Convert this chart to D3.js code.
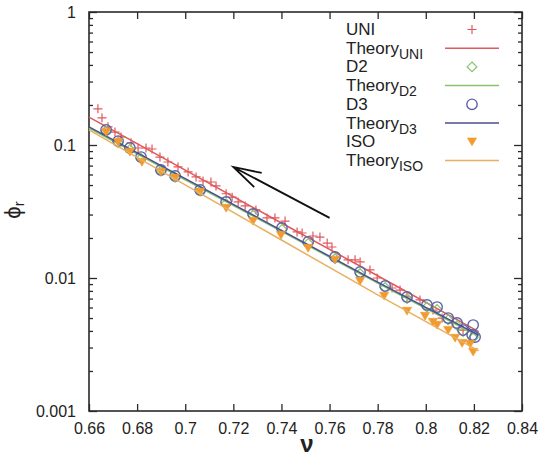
<!DOCTYPE html>
<html>
<head>
<meta charset="utf-8">
<script src="https://cdn.jsdelivr.net/npm/d3@7"></script>
<style>
  html, body { margin: 0; padding: 0; background: #fff; }
  svg text { font-family: "Liberation Sans", Arial, Helvetica, sans-serif; fill: #222; }
</style>
</head>
<body>
<svg id="chart" width="543" height="462"></svg>
<script>
// ---- data ----
const xTicks = [0.66, 0.68, 0.70, 0.72, 0.74, 0.76, 0.78, 0.80, 0.82, 0.84];
const xTickLabels = ["0.66", "0.68", "0.7", "0.72", "0.74", "0.76", "0.78", "0.8", "0.82", "0.84"];
const yTicks = [0.001, 0.01, 0.1, 1];
const yTickLabels = ["0.001", "0.01", "0.1", "1"];

const uniNu  = [0.6637, 0.6654, 0.6679, 0.6708, 0.6733, 0.6775, 0.6804, 0.6837, 0.6862, 0.6895,
                0.6928, 0.6970, 0.7012, 0.7045, 0.7074, 0.7107, 0.7128, 0.7170, 0.7195, 0.7220,
                0.7249, 0.7294, 0.7340, 0.7373, 0.7415, 0.7465, 0.7486, 0.7531, 0.7560, 0.7590,
                0.7610, 0.7677, 0.7706, 0.7727, 0.7768, 0.7798, 0.7860, 0.7893, 0.7922, 0.7976,
                0.8030, 0.8068, 0.8114, 0.8155];
const uniPhi = [0.187, 0.160, 0.137, 0.125, 0.115, 0.104, 0.0949, 0.0949, 0.0933, 0.0812,
                0.0745, 0.0684, 0.0627, 0.0575, 0.0536, 0.0527, 0.0492, 0.0430, 0.0405, 0.0373,
                0.0348, 0.0325, 0.0283, 0.0283, 0.0268, 0.0222, 0.0218, 0.0207, 0.0203, 0.0183,
                0.0171, 0.0137, 0.0137, 0.0132, 0.0115, 0.0100, 0.00841, 0.00812, 0.00720, 0.00684,
                0.00574, 0.00500, 0.00459, 0.00406];

const d2Nu  = [0.6671, 0.6721, 0.6770, 0.6816, 0.6899, 0.6958, 0.7062, 0.7170, 0.7282, 0.7402,
               0.7511, 0.7623, 0.7727, 0.7831, 0.7922, 0.8005, 0.8047, 0.8093, 0.8130, 0.8155, 0.8197];
const d2Phi = [0.127, 0.104, 0.0925, 0.0795, 0.0638, 0.0572, 0.0450, 0.0362, 0.0296, 0.0232,
               0.0182, 0.0140, 0.0108, 0.00850, 0.00700, 0.00605, 0.00580, 0.00485, 0.00440, 0.00395, 0.00355];

const d3Nu  = [0.6671, 0.6721, 0.6770, 0.6816, 0.6899, 0.6958, 0.7062, 0.7170, 0.7282, 0.7402,
               0.7511, 0.7623, 0.7727, 0.7831, 0.7922, 0.8005, 0.8047, 0.8093, 0.8130, 0.8155,
               0.8197, 0.8193, 0.8205];
const d3Phi = [0.130, 0.107, 0.0949, 0.0812, 0.0649, 0.0585, 0.0459, 0.0373, 0.0303, 0.0238,
               0.0187, 0.0144, 0.0111, 0.00871, 0.00720, 0.00627, 0.00605, 0.00500, 0.00459, 0.00406,
               0.00443, 0.00373, 0.00360];

const isoNu  = [0.6671, 0.6721, 0.6770, 0.6820, 0.6899, 0.6958, 0.7062, 0.7170, 0.7282, 0.7398,
                0.7511, 0.7623, 0.7727, 0.7827, 0.7922, 0.7997, 0.8030, 0.8047, 0.8093, 0.8122,
                0.8151, 0.8184, 0.8197];
const isoPhi = [0.125, 0.105, 0.0886, 0.0745, 0.0627, 0.0565, 0.0443, 0.0336, 0.0268, 0.0210,
                0.0168, 0.0137, 0.00949, 0.00733, 0.00565, 0.00518, 0.00467, 0.00443, 0.00406, 0.00354,
                0.00324, 0.00319, 0.00278];

// theory curves
const theoryNu     = [0.66, 0.70, 0.74, 0.78, 0.822];
const theoryUniPhi = [0.162, 0.0648, 0.0259, 0.0104, 0.00395];
const theoryD2Phi  = [0.134, 0.0548, 0.0224, 0.00915, 0.00365];
const theoryD3Phi  = [0.137, 0.0559, 0.0228, 0.00931, 0.00372];
const theoryIsoPhi = [0.130, 0.0501, 0.0193, 0.00746, 0.00283];

// arrow (tail -> head), in data units
const arrowNu  = [0.760, 0.720];
const arrowPhi = [0.0283, 0.0684];

// ---- layout ----
const svg = d3.select("#chart");
const mLeft = 89, mRight = 522, mTop = 12, mBottom = 411;

const x = d3.scaleLinear().domain([0.66, 0.84]).range([mLeft, mRight]);
const y = d3.scaleLog().domain([0.001, 1]).range([mBottom, mTop]);

const col = {
  uni: "#e0595c",
  d2: "#86c46e",
  d3: "#5a64a8",
  d3line: "#4a4f8e",
  iso: "#f29a2e",
  isoline: "#e9b060",
  axis: "#2a2a2a"
};

// ---- axes ----
const minorY = [];
[0.001, 0.01, 0.1].forEach(d => { for (let k = 2; k <= 9; k++) minorY.push(d * k); });

function styleAxis(g) {
  g.select(".domain").remove();
  g.selectAll(".tick line").attr("stroke", col.axis).attr("stroke-width", 1.3);
  g.selectAll(".tick text").attr("font-size", 16).attr("fill", "#222")
    .attr("font-family", '"Liberation Sans", Arial, sans-serif');
}

svg.append("g").attr("transform", `translate(0,${mBottom})`)
  .call(d3.axisBottom(x).tickValues(xTicks).tickSize(-7).tickPadding(12)
    .tickFormat((d, i) => xTickLabels[i]))
  .call(styleAxis);
svg.append("g").attr("transform", `translate(0,${mTop})`)
  .call(d3.axisTop(x).tickValues(xTicks).tickSize(-7).tickFormat(""))
  .call(styleAxis);

svg.append("g").attr("transform", `translate(${mLeft},0)`)
  .call(d3.axisLeft(y).tickValues(yTicks).tickSize(-8).tickPadding(13)
    .tickFormat((d, i) => yTickLabels[i]))
  .call(styleAxis);
svg.append("g").attr("transform", `translate(${mLeft},0)`)
  .call(d3.axisLeft(y).tickValues(minorY).tickSize(-4).tickFormat(""))
  .call(styleAxis);
svg.append("g").attr("transform", `translate(${mRight},0)`)
  .call(d3.axisRight(y).tickValues(yTicks).tickSize(-8).tickFormat(""))
  .call(styleAxis);
svg.append("g").attr("transform", `translate(${mRight},0)`)
  .call(d3.axisRight(y).tickValues(minorY).tickSize(-4).tickFormat(""))
  .call(styleAxis);

// frame
svg.append("rect")
  .attr("x", mLeft).attr("y", mTop)
  .attr("width", mRight - mLeft).attr("height", mBottom - mTop)
  .attr("fill", "none").attr("stroke", col.axis).attr("stroke-width", 1.6);

// axis titles
svg.append("text")
  .attr("x", 307).attr("y", 452)
  .attr("text-anchor", "middle")
  .attr("font-size", 24).attr("font-weight", "bold")
  .attr("font-family", '"DejaVu Sans", sans-serif')
  .text("ν");

const yTitle = svg.append("text")
  .attr("transform", "translate(20,210) rotate(-90)")
  .attr("text-anchor", "middle")
  .attr("font-size", 22)
  .attr("font-family", '"DejaVu Sans", sans-serif');
yTitle.append("tspan").text("ϕ");
yTitle.append("tspan").attr("font-size", 15).attr("dy", 4).text("r");

// ---- marks ----
const plot = svg.append("g");
const line = d3.line().x((d, i) => x(theoryNu[i])).y(d => y(d));

function drawTheory(vals, color) {
  plot.append("path").datum(vals)
    .attr("d", line)
    .attr("fill", "none").attr("stroke", color).attr("stroke-width", 1.5);
}

const pts = (nu, phi) => nu.map((n, i) => [n, phi[i]]);

// UNI: plus
function plus(g, cx, cy, s) {
  g.append("path").attr("d", `M${cx - s},${cy}H${cx + s}M${cx},${cy - s}V${cy + s}`)
    .attr("stroke", col.uni).attr("stroke-width", 1.2).attr("fill", "none");
}
const gUni = plot.append("g");
pts(uniNu, uniPhi).forEach(([n, p]) => plus(gUni, x(n), y(p), 4.5));
drawTheory(theoryUniPhi, col.uni);

// D2: diamonds
const diamond = d3.symbol().type(d3.symbolDiamond2).size(60);
plot.append("g").selectAll("path").data(pts(d2Nu, d2Phi)).join("path")
  .attr("d", diamond)
  .attr("transform", d => `translate(${x(d[0])},${y(d[1])})`)
  .attr("fill", "none").attr("stroke", col.d2).attr("stroke-width", 1.2);
drawTheory(theoryD2Phi, col.d2);

// D3: circles
plot.append("g").selectAll("circle").data(pts(d3Nu, d3Phi)).join("circle")
  .attr("cx", d => x(d[0])).attr("cy", d => y(d[1])).attr("r", 5.2)
  .attr("fill", "none").attr("stroke", col.d3).attr("stroke-width", 1.4);
drawTheory(theoryD3Phi, col.d3line);

// ISO: filled down triangles
function tri(cx, cy, s) {
  return `M${cx - s},${cy - s * 0.8}L${cx + s},${cy - s * 0.8}L${cx},${cy + s * 0.9}Z`;
}
plot.append("g").selectAll("path").data(pts(isoNu, isoPhi)).join("path")
  .attr("d", d => tri(x(d[0]), y(d[1]), 4.6))
  .attr("fill", col.iso).attr("stroke", col.iso).attr("stroke-width", 0.6);
drawTheory(theoryIsoPhi, col.isoline);

// arrow
{
  const x1 = x(arrowNu[0]), y1 = y(arrowPhi[0]);
  const x2 = x(arrowNu[1]), y2 = y(arrowPhi[1]);
  const ang = Math.atan2(y1 - y2, x1 - x2);
  const L = 29, a = 16 * Math.PI / 180;
  const b1 = [x2 + L * Math.cos(ang - a), y2 + L * Math.sin(ang - a)];
  const b2 = [x2 + L * Math.cos(ang + a), y2 + L * Math.sin(ang + a)];
  svg.append("path")
    .attr("d", `M${x1},${y1}L${x2},${y2}M${b1[0]},${b1[1]}L${x2},${y2}L${b2[0]},${b2[1]}`)
    .attr("fill", "none").attr("stroke", "#111").attr("stroke-width", 1.8);
}

// ---- legend ----
const legendItems = [
  { label: "UNI", sub: null, kind: "plus", color: col.uni },
  { label: "Theory", sub: "UNI", kind: "line", color: col.uni },
  { label: "D2", sub: null, kind: "diamond", color: col.d2 },
  { label: "Theory", sub: "D2", kind: "line", color: col.d2 },
  { label: "D3", sub: null, kind: "circle", color: col.d3 },
  { label: "Theory", sub: "D3", kind: "line", color: col.d3line },
  { label: "ISO", sub: null, kind: "tri", color: col.iso },
  { label: "Theory", sub: "ISO", kind: "line", color: col.isoline }
];
const lg = svg.append("g");
const lx = 346, lBase = 35, lStep = 18.7, mx = 472;
legendItems.forEach((it, i) => {
  const by = lBase + i * lStep;
  const cy = by - 5.5;
  const t = lg.append("text").attr("x", lx).attr("y", by).attr("font-size", 17);
  t.append("tspan").text(it.label);
  if (it.sub) t.append("tspan").attr("font-size", 14).attr("dy", 5).text(it.sub);
  if (it.kind === "plus") plus(lg, mx, cy, 4.5);
  else if (it.kind === "line")
    lg.append("line").attr("x1", 445).attr("x2", 499).attr("y1", cy).attr("y2", cy)
      .attr("stroke", it.color).attr("stroke-width", 1.5);
  else if (it.kind === "diamond")
    lg.append("path").attr("d", diamond).attr("transform", `translate(${mx},${cy})`)
      .attr("fill", "none").attr("stroke", it.color).attr("stroke-width", 1.2);
  else if (it.kind === "circle")
    lg.append("circle").attr("cx", mx).attr("cy", cy).attr("r", 5.2)
      .attr("fill", "none").attr("stroke", it.color).attr("stroke-width", 1.4);
  else if (it.kind === "tri")
    lg.append("path").attr("d", tri(mx, cy, 4.6)).attr("fill", it.color)
      .attr("stroke", it.color).attr("stroke-width", 0.6);
});
</script>
</body>
</html>
